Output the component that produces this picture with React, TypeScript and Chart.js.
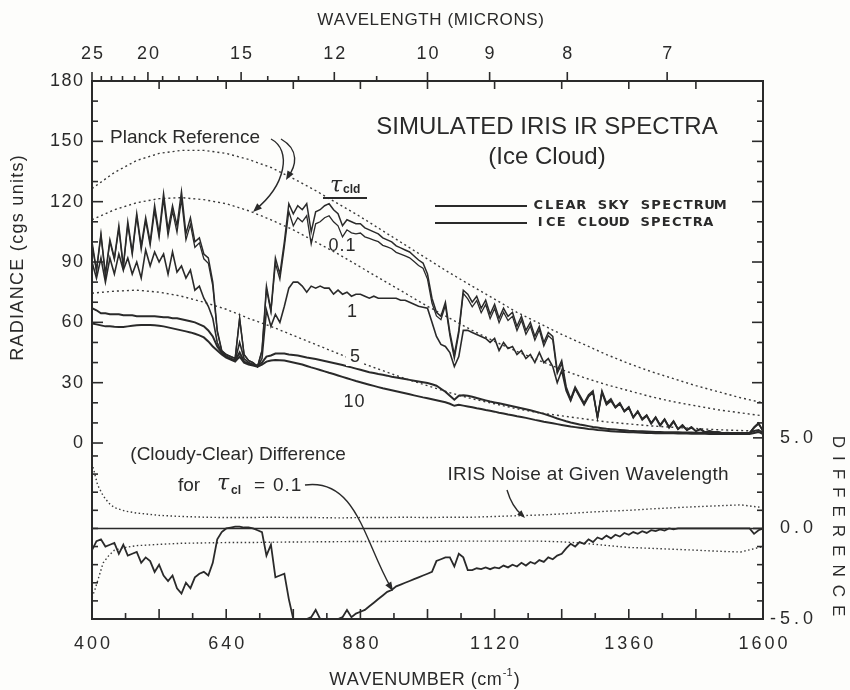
import React, { useEffect, useRef } from 'react';
import { Chart, registerables } from 'chart.js';

Chart.register(...registerables);

// ---------- DATA ----------
// Spectral wavenumber grid (cm^-1)
const WN = [
  400, 408, 416, 424, 432, 440, 448, 456, 464, 472,
  480, 488, 496, 504, 512, 520, 528, 536, 544, 552,
  560, 568, 576, 584, 592, 600, 608, 616, 624, 632,
  640, 648, 656, 664, 672, 680, 688, 696, 704, 712,
  720, 728, 736, 744, 752, 760, 768, 776, 784, 792,
  800, 808, 816, 824, 832, 840, 848, 856, 864, 872,
  880, 888, 896, 904, 912, 920, 928, 936, 944, 952,
  960, 968, 976, 984, 992, 1000, 1008, 1016, 1024, 1032,
  1040, 1048, 1056, 1064, 1072, 1080, 1088, 1096, 1104, 1112,
  1120, 1128, 1136, 1144, 1152, 1160, 1168, 1176, 1184, 1192,
  1200, 1208, 1216, 1224, 1232, 1240, 1248, 1256, 1264, 1272,
  1280, 1288, 1296, 1304, 1312, 1320, 1328, 1336, 1344, 1352,
  1360, 1368, 1376, 1384, 1392, 1400, 1408, 1416, 1424, 1432,
  1440, 1448, 1456, 1464, 1472, 1480, 1488, 1496, 1504, 1512,
  1520, 1528, 1536, 1544, 1552, 1560, 1568, 1576, 1584, 1592,
  1600,
];

// Clear sky spectrum (radiance, cgs units)
const CLEAR = [
  100, 86, 104, 84, 101, 92, 108, 88, 110, 95,
  114, 98, 112, 100, 118, 104, 124, 106, 118, 108,
  125, 104, 112, 100, 102, 94, 92, 80, 56, 46,
  44, 43, 42, 62, 44, 41, 40, 38, 46, 78,
  66, 92, 84, 100, 119, 114, 118, 116, 119, 105,
  115, 116, 118, 119, 116, 114, 108, 111, 110, 109,
  109, 107, 106, 105, 104, 102, 101, 100, 98, 97,
  96, 95, 93, 91, 89.5, 84, 72, 65, 63, 70,
  55, 44, 56, 76, 74, 70, 73, 67, 71, 64,
  69, 62, 67, 63, 65, 58, 63, 56, 60, 53,
  58, 50, 55, 53, 36, 41, 28, 22, 28, 24,
  20, 24, 26, 13, 26, 20, 22, 18, 20, 16,
  18, 13, 16, 12, 14, 10, 13, 9, 12, 8,
  11, 7, 9, 6.5, 8, 6, 7, 5.5, 6, 5.5,
  5.5, 5, 5.2, 5, 5.1, 5, 5, 5, 8, 10,
  6,
];

// Ice cloud spectrum, tau = 0.1
const TAU_01 = [
  98.8, 85.3, 103.4, 83, 100.1, 91.2, 106.6, 87.1, 108.5, 93.6,
  112.7, 96.1, 110.4, 98.2, 115.6, 102, 121.4, 103.1, 115.4, 104.7,
  121.4, 101, 108.7, 97.3, 99.5, 91.6, 89.4, 78.1, 55.4, 45.8,
  44, 43, 42.1, 62.1, 44, 41, 40, 37.9, 45.8, 76.5,
  65.1, 89.3, 81.4, 97.5, 115.1, 108, 112, 110, 113, 99,
  109, 110, 112, 113, 110, 108, 102.5, 106, 104.5, 104,
  104.4, 102.5, 101.7, 100.9, 100.1, 98.3, 97.5, 96.6, 94.8, 93.9,
  93, 92.1, 90.2, 88.3, 86.9, 81.5, 69.6, 63.2, 61.3, 68.4,
  53.4, 41.9, 54.6, 74.4, 71.7, 67.7, 70.8, 64.8, 68.9, 61.8,
  66.9, 59.8, 65, 60.9, 63, 55.9, 61.1, 54, 58.2, 51.1,
  56.3, 48.2, 53.4, 51.3, 34.5, 39.6, 26.9, 21.2, 27, 23.3,
  19.2, 23.4, 25.3, 12.5, 25.4, 19.6, 21.5, 17.7, 19.6, 15.8,
  17.7, 12.8, 15.7, 11.9, 13.8, 9.9, 12.9, 9, 11.9, 8,
  11, 7, 9, 6.5, 8, 6, 7, 5.5, 6, 5.5,
  5.5, 5, 5.2, 5, 5.1, 5, 5, 5, 7.7, 9.9,
  6,
];

// Ice cloud spectrum, tau = 1
const TAU_1 = [
  90, 82, 92, 80, 92, 84, 94, 86, 92, 84,
  90, 82, 96, 88, 95, 90, 94, 84, 95, 85,
  88, 82, 86, 76, 78, 72, 68, 62, 50, 45,
  43, 42, 41, 50, 42, 40, 39, 38, 42, 66,
  58, 64, 60, 68, 77, 80, 80, 78, 75, 78,
  77, 78, 77, 77, 74, 76, 74, 75, 73, 74,
  74, 73, 72, 73, 72, 72, 72, 72, 72, 71,
  71, 70, 69, 68, 67.5, 67, 60, 53, 49, 48,
  45, 38, 43, 56, 56, 55, 54, 53, 52, 50,
  52, 46, 50, 47, 48, 44, 46, 42, 44, 40,
  45, 40, 42, 38, 30, 36, 26, 21, 27, 23,
  19, 23, 25, 12.5, 25, 19, 21, 17.5, 19.5, 15.5,
  17.5, 12.5, 15.5, 11.5, 13.5, 9.5, 12.5, 8.5, 11.5, 7.5,
  10.5, 6.8, 8.5, 6.3, 7.6, 5.8, 6.7, 5.4, 5.8, 5.4,
  5.3, 5, 5.1, 5, 5, 5, 5, 5, 7.5, 9.5,
  6,
];

// Ice cloud spectrum, tau = 5
const TAU_5 = [
  67, 66, 64.5, 64.5, 64, 64, 64, 63.5, 63.5, 63.5,
  63, 63, 63, 63, 63, 62.8, 62.5, 62.5, 62, 62,
  61.5, 61, 60.5, 60, 59, 58, 56, 53, 48, 45,
  43, 42, 41, 45, 40.5, 39.5, 39, 38.5, 40, 43,
  43.5, 44.5, 44.5, 44.5, 44, 43.8, 43.5, 43, 42.5, 42.2,
  41.8, 41.3, 40.8, 40.3, 39.8, 39.3, 38.8, 38.2, 37.6, 37,
  36.4, 35.8, 35.2, 34.8, 34.3, 33.9, 33.5, 33, 32.6, 32.2,
  31.8, 31.4, 31, 30.6, 30.2, 29.8, 29.2, 28.5, 27, 25.5,
  23.5, 21.5, 23.5, 23.8, 23.5, 23, 22.4, 21.8, 21.2, 20.6,
  20.2, 19.8, 19.3, 18.8, 18.3, 17.8, 17.3, 16.8, 16.3, 15.7,
  15.1, 14.5, 13.8, 13, 12.2, 11.5, 10.8, 10.2, 9.7, 9.2,
  8.8, 8.4, 8, 7.7, 7.4, 7.1, 6.9, 6.7, 6.5, 6.3,
  6.1, 6, 5.9, 5.8, 5.7, 5.6, 5.5, 5.5, 5.4, 5.4,
  5.3, 5.3, 5.2, 5.2, 5.2, 5.1, 5.1, 5.1, 5.1, 5,
  5, 5, 5, 5, 5, 5, 5, 5, 6, 6.5,
  5,
];

// Ice cloud spectrum, tau = 10
const TAU_10 = [
  59.5, 59, 58.5, 58, 58, 57.8, 57.7, 57.7, 58, 58.3,
  58.5, 58.7, 58.7, 58.7, 58.5, 58.3, 58, 57.5, 57, 56.5,
  56, 55.5, 55, 54.3, 53.5, 52.5, 50.5, 48, 46, 44,
  42.5, 41.5, 40.5, 43, 40, 39, 38.5, 38, 39, 40.5,
  41, 41.3, 41.2, 41, 40.5, 40, 39.5, 39, 38.3, 37.6,
  37, 36.3, 35.6, 34.9, 34.3, 33.6, 32.9, 32.2, 31.5, 30.8,
  30.2, 29.6, 29, 28.4, 27.8, 27.2, 26.7, 26.2, 25.7, 25.2,
  24.7, 24.2, 23.7, 23.2, 22.7, 22.3, 21.8, 21.3, 20.8, 20.3,
  19.5, 18.5, 19, 18.6, 18.2, 17.8, 17.3, 16.9, 16.4, 16,
  15.6, 15.1, 14.7, 14.2, 13.8, 13.3, 12.9, 12.5, 12, 11.5,
  11.1, 10.6, 10.2, 9.8, 9.4, 9, 8.6, 8.2, 7.9, 7.6,
  7.3, 7, 6.8, 6.5, 6.3, 6.1, 5.9, 5.7, 5.6, 5.5,
  5.4, 5.3, 5.2, 5.1, 5, 5, 4.9, 4.9, 4.8, 4.8,
  4.8, 4.7, 4.7, 4.7, 4.6, 4.6, 4.6, 4.6, 4.5, 4.5,
  4.5, 4.5, 4.5, 4.5, 4.5, 4.5, 4.5, 4.5, 5, 5.5,
  4.5,
];

// (Cloudy - Clear) difference for tau = 0.1 (lower panel, clipped at -5)
const DIFF = [
  -1.2, -0.7, -0.6, -1.0, -0.9, -0.8, -1.4, -0.9, -1.5, -1.4,
  -1.3, -1.9, -1.6, -1.8, -2.4, -2.0, -2.6, -2.9, -2.6, -3.3,
  -3.6, -3.0, -3.3, -2.7, -2.5, -2.4, -2.6, -1.9, -0.6, -0.2,
  0, 0.05, 0.1, 0.1, 0.05, 0.05, 0, -0.1, -0.2, -1.5,
  -0.9, -2.7, -2.6, -2.5, -3.9, -5, -5, -5, -5, -4.9,
  -4.5, -5, -5, -5, -5, -5, -4.9, -4.5, -4.9, -4.7,
  -4.6, -4.5, -4.3, -4.1, -3.9, -3.7, -3.5, -3.4, -3.2, -3.1,
  -3.0, -2.9, -2.8, -2.7, -2.6, -2.5, -2.4, -1.8, -1.7, -1.6,
  -1.6, -2.1, -1.4, -1.6, -2.3, -2.3, -2.2, -2.25, -2.15, -2.25,
  -2.15, -2.2, -2.05, -2.15, -2.0, -2.1, -1.9, -2.05, -1.85, -1.95,
  -1.75, -1.85, -1.6, -1.7, -1.5, -1.4, -1.1, -0.85, -1.0, -0.75,
  -0.85, -0.6, -0.75, -0.5, -0.6, -0.4, -0.55, -0.35, -0.45, -0.25,
  -0.35, -0.2, -0.3, -0.15, -0.25, -0.1, -0.15, -0.05, -0.12, 0,
  -0.05, 0, 0, 0, 0, 0, 0, 0, 0, 0,
  0, 0, 0, 0, 0, 0, 0, 0, -0.3, -0.1,
  0,
];

// Planck reference curves (coarser wavenumber grid)
const PLANCK_WN = [
  400, 440, 480, 520, 560, 600, 640, 680, 720, 760,
  800, 840, 880, 920, 960, 1000, 1040, 1080, 1120, 1160,
  1200, 1240, 1280, 1320, 1360, 1400, 1440, 1480, 1520, 1560,
  1600,
];
const PLANCK_UPPER = [
  126.5, 134.5, 140.5, 144, 145.5, 145.5, 144, 141, 137, 131.5,
  125.5, 119, 112.5, 105.5, 98.5, 91.5, 84.5, 78, 71.5, 65,
  59.5, 54, 49, 44, 39.5, 35.5, 32, 28.5, 25.5, 22.5,
  20,
];
const PLANCK_LOWER = [
  111, 116, 119.5, 121.5, 122, 121, 119, 115.5, 111, 106,
  100, 94, 87.5, 81, 74.5, 68, 62, 56, 50.5, 45.5,
  41, 36.5, 32.5, 29, 26, 23, 20.5, 18.5, 16.5, 15,
  13.5,
];
const PLANCK_THIRD = [
  74.5, 75.5, 76, 75, 73, 70, 66.5, 62, 58, 53.5,
  49, 44.5, 40, 36, 32, 28.5, 25, 22, 19.5, 17,
  15, 13.5, 12, 10.5, 9.5, 8.5, 7.8, 7.2, 6.6, 6.2,
  5.8,
];

// IRIS noise envelope (difference units)
const NOISE_WN = [
  400, 405, 410, 420, 430, 440, 460, 480,
  520, 560, 600, 640, 680, 720, 760, 800, 840, 880, 920, 960, 1000,
  1040, 1080, 1120, 1160, 1200, 1240, 1280, 1320, 1360, 1400, 1440, 1480, 1520, 1560, 1600,
];
const NOISE_UP = [
  3.6, 3.0, 2.4, 1.8, 1.4, 1.15, 0.95, 0.85,
  0.72, 0.66, 0.62, 0.6, 0.6, 0.62, 0.6, 0.6, 0.58, 0.6, 0.6, 0.62, 0.6,
  0.62, 0.62, 0.66, 0.7, 0.74, 0.8, 0.88, 0.95, 1.0, 1.08, 1.14, 1.2, 1.25, 1.3, 1.15,
];
const NOISE_LO = [
  -3.8, -3.4, -2.9, -1.9, -1.5, -1.2, -1.05, -0.95,
  -0.88, -0.82, -0.8, -0.78, -0.78, -0.76, -0.75, -0.74, -0.73, -0.72, -0.72, -0.71, -0.72,
  -0.7, -0.7, -0.7, -0.7, -0.7, -0.74, -0.82, -0.94, -1.05, -1.1, -1.15, -1.2, -1.26, -1.3, -1.0,
];

const ZERO_LINE_WN = [400, 1600];
const ZERO_LINE = [0, 0];

// Tick labels
const BOTTOM_TICKS = [400, 640, 880, 1120, 1360, 1600];
const LEFT_TICKS = [0, 30, 60, 90, 120, 150, 180];
const RIGHT_TICKS = [-5, 0, 5];
const WL_MAJOR = [25, 20, 15, 12, 10, 9, 8, 7];
const WL_MINOR = [24, 23, 22, 21, 19, 18, 17, 16, 14, 13, 11];

// ---------- STYLE ----------
const INK = '#2a2a2a';
const FONT = "'Liberation Sans', Arial, sans-serif";

const pts = (xs: number[], ys: number[]) => xs.map((x, i) => ({ x, y: ys[i] }));

function drawSpaced(ctx: CanvasRenderingContext2D, text: string, x: number, y: number, spacing: number, align: 'left' | 'center' | 'right') {
  const chars = [...text];
  const widths = chars.map((c) => ctx.measureText(c).width);
  const total = widths.reduce((a, b) => a + b, 0) + spacing * (chars.length - 1);
  let cx = align === 'left' ? x : align === 'center' ? x - total / 2 : x - total;
  ctx.textAlign = 'left';
  chars.forEach((c, i) => {
    ctx.fillText(c, cx, y);
    cx += widths[i] + spacing;
  });
}

function drawMono(ctx: CanvasRenderingContext2D, text: string, x: number, y: number, adv: number) {
  ctx.textAlign = 'center';
  [...text].forEach((c, i) => ctx.fillText(c, x + adv * i + adv / 2, y));
}

function arrowHead(ctx: CanvasRenderingContext2D, x: number, y: number, fx: number, fy: number, len = 9, half = 3.5) {
  const a = Math.atan2(y - fy, x - fx);
  ctx.beginPath();
  ctx.moveTo(x, y);
  ctx.lineTo(x - len * Math.cos(a) + half * Math.sin(a), y - len * Math.sin(a) - half * Math.cos(a));
  ctx.lineTo(x - len * Math.cos(a) - half * Math.sin(a), y - len * Math.sin(a) + half * Math.cos(a));
  ctx.closePath();
  ctx.fill();
}

const bgPlugin = {
  id: 'bg',
  beforeDraw(chart: any) {
    const { ctx, width, height } = chart;
    ctx.save();
    ctx.fillStyle = '#fdfdfb';
    ctx.fillRect(0, 0, width, height);
    ctx.restore();
  },
};

const framePlugin = {
  id: 'frame',
  afterDraw(chart: any) {
    const ctx: CanvasRenderingContext2D = chart.ctx;
    const { left, right, top, bottom } = chart.chartArea;
    const sx = chart.scales.x;
    const sy = chart.scales.y;
    const sd = chart.scales.yd;
    ctx.save();
    ctx.strokeStyle = INK;
    ctx.fillStyle = INK;
    ctx.lineWidth = 2;
    ctx.strokeRect(left, top, right - left, bottom - top);

    ctx.lineWidth = 1.6;
    const tick = (x1: number, y1: number, x2: number, y2: number) => {
      ctx.beginPath();
      ctx.moveTo(x1, y1);
      ctx.lineTo(x2, y2);
      ctx.stroke();
    };
    // left / right radiance ticks
    for (let v = 10; v < 180; v += 10) {
      const py = sy.getPixelForValue(v);
      const len = v % 30 === 0 ? 11 : 6;
      tick(left, py, left + len, py);
      tick(right, py, right - len, py);
    }
    tick(left, sy.getPixelForValue(0), left + 11, sy.getPixelForValue(0));
    // difference ticks
    for (let v = -4; v <= 5; v += 1) {
      const py = sd.getPixelForValue(v);
      const len = v === 0 || v === 5 ? 10 : 6;
      tick(right, py, right - len, py);
      if (v < 5) tick(left, py, left + 6, py);
    }
    // bottom ticks
    for (let w = 460; w < 1600; w += 60) {
      const px = sx.getPixelForValue(w);
      const len = (w - 400) % 120 === 0 ? 10 : 6;
      tick(px, bottom, px, bottom - len);
    }
    // top inward ticks
    for (let w = 520; w < 1600; w += 120) {
      const px = sx.getPixelForValue(w);
      tick(px, top, px, top + 8);
    }
    // top wavelength ticks (outward)
    WL_MAJOR.forEach((l) => {
      const px = sx.getPixelForValue(10000 / l);
      tick(px, top, px, top - 9);
    });
    WL_MINOR.forEach((l) => {
      const px = sx.getPixelForValue(10000 / l);
      tick(px, top, px, top - 5);
    });

    // tick labels
    ctx.textBaseline = 'middle';
    ctx.font = `18px ${FONT}`;
    BOTTOM_TICKS.forEach((w) => drawSpaced(ctx, String(w), sx.getPixelForValue(w), bottom + 25, 3, 'center'));
    WL_MAJOR.forEach((l) => drawSpaced(ctx, String(l), sx.getPixelForValue(10000 / l), top - 27, 2, 'center'));
    LEFT_TICKS.forEach((v) => drawSpaced(ctx, String(v), left - 9, sy.getPixelForValue(v), 1.5, 'right'));
    RIGHT_TICKS.forEach((v) => drawSpaced(ctx, v.toFixed(1), right + 50, sd.getPixelForValue(v), 4, 'right'));

    // axis titles
    ctx.font = `17px ${FONT}`;
    drawSpaced(ctx, 'WAVELENGTH (MICRONS)', (left + right) / 2 + 3, 20, 0.6, 'center');
    ctx.font = `18px ${FONT}`;
    drawSpaced(ctx, 'WAVENUMBER (cm', (left + right) / 2 - 12, 680, 0.5, 'center');
    {
      ctx.font = `18px ${FONT}`;
      const base = 'WAVENUMBER (cm';
      const wBase = [...base].reduce((a, c) => a + ctx.measureText(c).width + 0.5, 0) - 0.5;
      const xEnd = (left + right) / 2 - 12 + wBase / 2;
      ctx.font = `11px ${FONT}`;
      ctx.textAlign = 'left';
      ctx.fillText('-1', xEnd + 1, 673);
      ctx.font = `18px ${FONT}`;
      ctx.fillText(')', xEnd + 12, 680);
    }
    ctx.save();
    ctx.translate(18, 258);
    ctx.rotate(-Math.PI / 2);
    ctx.font = `18px ${FONT}`;
    drawSpaced(ctx, 'RADIANCE (cgs units)', 0, 0, 1.3, 'center');
    ctx.restore();
    ctx.save();
    ctx.translate(838, 526);
    ctx.rotate(Math.PI / 2);
    ctx.font = `17px ${FONT}`;
    drawSpaced(ctx, 'DIFFERENCE', 0, 0, 8, 'center');
    ctx.restore();

    // title
    ctx.font = `24px ${FONT}`;
    drawSpaced(ctx, 'SIMULATED IRIS IR SPECTRA', 547, 127, 0, 'center');
    drawSpaced(ctx, '(Ice Cloud)', 547, 157, 0, 'center');

    // legend
    ctx.lineWidth = 2;
    tick(435, 206, 527, 206);
    tick(435, 223, 527, 223);
    ctx.font = `bold 13px 'DejaVu Sans', sans-serif`;
    drawMono(ctx, 'CLEAR SKY SPECTRUM', 533, 206, 10.7);
    drawMono(ctx, 'ICE CLOUD SPECTRA', 535, 223, 10.5);

    // tau_cld header
    ctx.font = `italic 22px 'DejaVu Serif', serif`;
    ctx.textAlign = 'left';
    ctx.fillText('τ', 330, 186);
    ctx.font = `bold 12px ${FONT}`;
    ctx.fillText('cld', 343, 190);
    ctx.lineWidth = 2;
    tick(323, 198, 367, 198);

    // curve labels
    ctx.font = `18px ${FONT}`;
    drawSpaced(ctx, '0.1', 342, 246, 1, 'center');
    drawSpaced(ctx, '1', 352, 312, 0, 'center');
    ctx.fillStyle = '#fdfdfb';
    ctx.fillRect(346, 348, 18, 18);
    ctx.fillStyle = INK;
    drawSpaced(ctx, '5', 355, 357, 0, 'center');
    drawSpaced(ctx, '10', 354, 402, 1, 'center');

    // Planck reference label and arrows
    ctx.font = `19px ${FONT}`;
    drawSpaced(ctx, 'Planck Reference', 110, 138, 0, 'left');
    ctx.lineWidth = 1.4;
    ctx.beginPath();
    ctx.moveTo(271, 139);
    ctx.bezierCurveTo(292, 150, 286, 185, 255, 210);
    ctx.stroke();
    arrowHead(ctx, 253, 212, 268, 198);
    ctx.beginPath();
    ctx.moveTo(281, 139);
    ctx.bezierCurveTo(300, 150, 296, 166, 288, 177);
    ctx.stroke();
    arrowHead(ctx, 286, 180, 293, 168);

    // Difference annotation
    ctx.font = `19px ${FONT}`;
    drawSpaced(ctx, '(Cloudy-Clear) Difference', 238, 455, 0, 'center');
    ctx.textAlign = 'left';
    ctx.fillText('for', 178, 486);
    ctx.font = `italic 22px 'DejaVu Serif', serif`;
    ctx.fillText('τ', 217, 484);
    ctx.font = `bold 12px ${FONT}`;
    ctx.fillText('cl', 231, 491);
    ctx.font = `19px ${FONT}`;
    ctx.fillText('=', 254, 486);
    drawSpaced(ctx, '0.1', 273, 486, 1, 'left');
    ctx.lineWidth = 1.4;
    ctx.beginPath();
    ctx.moveTo(305, 485);
    ctx.bezierCurveTo(356, 478, 364, 540, 390, 586);
    ctx.stroke();
    arrowHead(ctx, 393, 591, 380, 570);

    // Noise annotation
    ctx.font = `19px ${FONT}`;
    drawSpaced(ctx, 'IRIS Noise at Given Wavelength', 588, 475, 0.3, 'center');
    ctx.beginPath();
    ctx.moveTo(507, 490);
    ctx.quadraticCurveTo(512, 507, 522, 515);
    ctx.stroke();
    arrowHead(ctx, 525, 518, 514, 507, 8, 3);

    ctx.restore();
  },
};

export default function App() {
  const ref = useRef<HTMLCanvasElement | null>(null);
  useEffect(() => {
    document.body.style.margin = '0';
    const solid = (label: string, data: any[], width: number, yAxisID = 'y') => ({
      label,
      data,
      yAxisID,
      borderColor: INK,
      borderWidth: width,
      pointRadius: 0,
      tension: 0,
      fill: false,
    });
    const dotted = (label: string, data: any[], yAxisID = 'y', dash = [2, 3]) => ({
      label,
      data,
      yAxisID,
      borderColor: '#3a3a3a',
      borderWidth: 1.4,
      borderDash: dash,
      pointRadius: 0,
      tension: 0,
      fill: false,
    });
    const chart = new Chart(ref.current as HTMLCanvasElement, {
      type: 'line',
      data: {
        datasets: [
          solid('Clear sky spectrum', pts(WN, CLEAR), 1.5),
          solid('tau 0.1', pts(WN, TAU_01), 1.3),
          solid('tau 1', pts(WN, TAU_1), 1.6),
          solid('tau 5', pts(WN, TAU_5), 2),
          solid('tau 10', pts(WN, TAU_10), 2),
          dotted('Planck upper', pts(PLANCK_WN, PLANCK_UPPER)),
          dotted('Planck lower', pts(PLANCK_WN, PLANCK_LOWER)),
          dotted('Planck third', pts(PLANCK_WN, PLANCK_THIRD)),
          solid('Difference', pts(WN, DIFF), 1.8, 'yd'),
          solid('Zero', pts(ZERO_LINE_WN, ZERO_LINE), 1.6, 'yd'),
          dotted('Noise +', pts(NOISE_WN, NOISE_UP), 'yd', [1.5, 2.5]),
          dotted('Noise -', pts(NOISE_WN, NOISE_LO), 'yd', [1.5, 2.5]),
        ],
      },
      options: {
        animation: false,
        responsive: false,
        devicePixelRatio: 1,
        layout: { padding: { left: 92, right: 87, top: 81, bottom: 71 } },
        plugins: { legend: { display: false }, tooltip: { enabled: false }, title: { display: false } },
        scales: {
          x: { type: 'linear', min: 400, max: 1600, display: false },
          y: { type: 'linear', min: -87.5, max: 180, display: false },
          yd: { type: 'linear', min: -5, max: 24.7, display: false },
        },
      },
      plugins: [bgPlugin, framePlugin],
    } as any);
    return () => chart.destroy();
  }, []);
  return <canvas ref={ref} width={850} height={690} style={{ display: 'block', width: 850, height: 690 }} />;
}
